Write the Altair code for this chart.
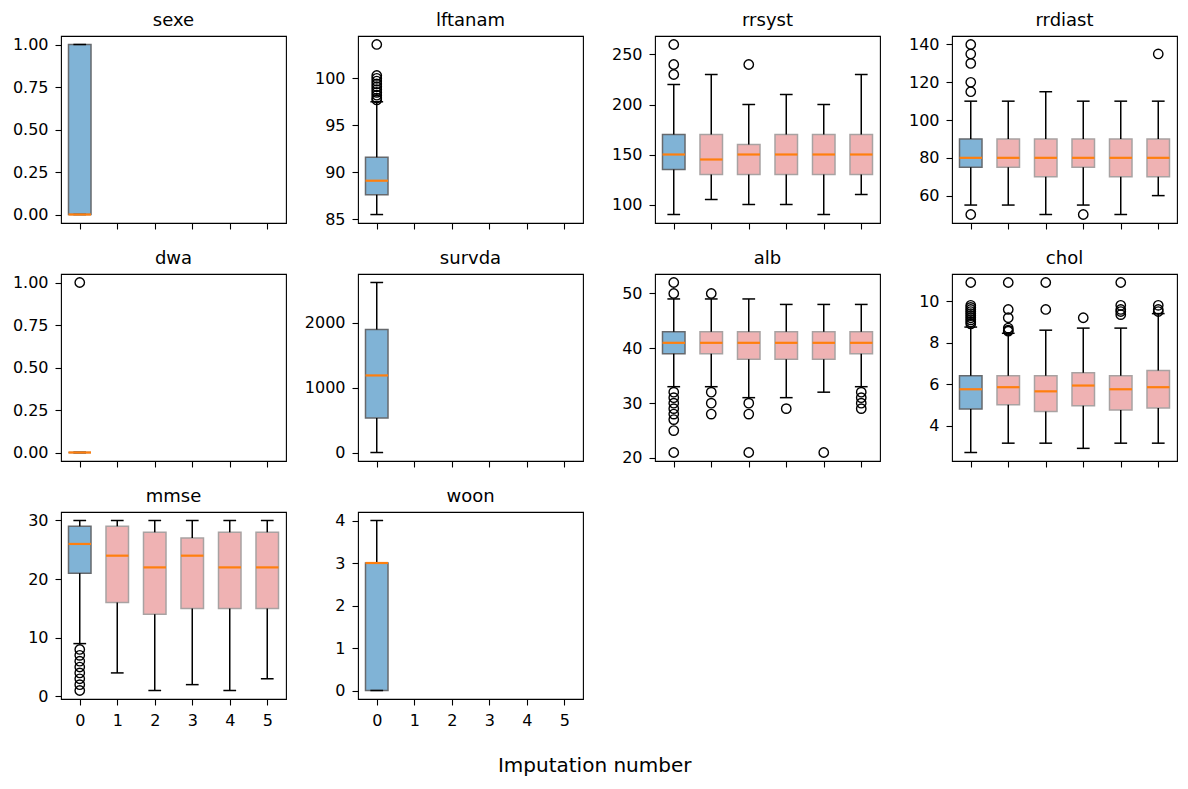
import altair as alt
import pandas as pd

variables = ["sexe", "lftanam", "rrsyst", "rrdiast", "dwa", "survda", "alb", "chol", "mmse", "woon"]
imputations = [0, 1, 2, 3, 4, 5]

q1 = {
    "sexe": [0], "lftanam": [87.6], "rrsyst": [135, 130, 130, 130, 130, 130],
    "rrdiast": [75, 75, 70, 75, 70, 70], "dwa": [0], "survda": [532],
    "alb": [39, 39, 38, 38, 38, 39], "chol": [4.8, 5.0, 4.68, 4.95, 4.75, 4.85],
    "mmse": [21, 16, 14, 15, 15, 15], "woon": [0],
}
median = {
    "sexe": [0], "lftanam": [89.1], "rrsyst": [150, 145, 150, 150, 150, 150],
    "rrdiast": [80, 80, 80, 80, 80, 80], "dwa": [0], "survda": [1190],
    "alb": [41, 41, 41, 41, 41, 41], "chol": [5.75, 5.85, 5.65, 5.93, 5.75, 5.85],
    "mmse": [26, 24, 22, 24, 22, 22], "woon": [3],
}
q3 = {
    "sexe": [1], "lftanam": [91.6], "rrsyst": [170, 170, 160, 170, 170, 170],
    "rrdiast": [90, 90, 90, 90, 90, 90], "dwa": [0], "survda": [1900],
    "alb": [43, 43, 43, 43, 43, 43], "chol": [6.4, 6.4, 6.4, 6.55, 6.4, 6.65],
    "mmse": [29, 29, 28, 27, 28, 28], "woon": [3],
}
whisker_lo = {
    "sexe": [0], "lftanam": [85.5], "rrsyst": [90, 105, 100, 100, 90, 110],
    "rrdiast": [55, 55, 50, 55, 50, 60], "dwa": [0], "survda": [0],
    "alb": [33, 33, 31, 31, 32, 33], "chol": [2.7, 3.15, 3.15, 2.9, 3.15, 3.15],
    "mmse": [9, 4, 1, 2, 1, 3], "woon": [0],
}
whisker_hi = {
    "sexe": [1], "lftanam": [97.5], "rrsyst": [220, 230, 200, 210, 200, 230],
    "rrdiast": [110, 110, 115, 110, 110, 110], "dwa": [0], "survda": [2625],
    "alb": [49, 49, 49, 48, 48, 48], "chol": [8.75, 8.45, 8.6, 8.7, 8.7, 9.4],
    "mmse": [30, 30, 30, 30, 30, 30], "woon": [4],
}
outliers = {
    "sexe": [[]],
    "lftanam": [[97.7, 97.9, 98.2, 98.5, 98.8, 99.1, 99.4, 99.7, 100.0, 100.3, 103.6]],
    "rrsyst": [[230, 240, 260], [], [240], [], [], []],
    "rrdiast": [[50, 115, 120, 130, 135, 140], [], [], [50], [], [135]],
    "dwa": [[1]],
    "survda": [[]],
    "alb": [[21, 25, 27, 28, 29, 30, 31, 32, 50, 52], [28, 30, 32, 50], [21, 28, 30], [29], [21],
            [29, 30, 31, 32]],
    "chol": [[8.9, 9.0, 9.1, 9.2, 9.3, 9.4, 9.5, 9.6, 9.7, 9.8, 10.9],
             [8.55, 8.6, 8.7, 9.2, 9.6, 10.9], [9.6, 10.9], [9.2], [9.35, 9.5, 9.6, 9.8, 10.9],
             [9.5, 9.6, 9.8]],
    "mmse": [[1, 2, 3, 4, 5, 6, 7, 8], [], [], [], [], []],
    "woon": [[]],
}
y_domain = {
    "sexe": [-0.05, 1.05], "lftanam": [84.6, 104.5], "rrsyst": [81.5, 268.5],
    "rrdiast": [45.5, 144.5], "dwa": [-0.05, 1.05], "survda": [-131, 2756],
    "alb": [19.45, 53.55], "chol": [2.29, 11.31], "mmse": [-0.45, 31.45], "woon": [-0.2, 4.2],
}
y_ticks = {
    "sexe": [0, 0.25, 0.5, 0.75, 1.0], "lftanam": [85, 90, 95, 100],
    "rrsyst": [100, 150, 200, 250], "rrdiast": [60, 80, 100, 120, 140],
    "dwa": [0, 0.25, 0.5, 0.75, 1.0], "survda": [0, 1000, 2000],
    "alb": [20, 30, 40, 50], "chol": [4, 6, 8, 10], "mmse": [0, 10, 20, 30],
    "woon": [0, 1, 2, 3, 4],
}
y_format = {"sexe": ".2f", "dwa": ".2f"}

W, H = 225, 187
BOX_HALF = 0.3
CAP_HALF = 0.15
OBS_FILL, IMP_FILL = "#80b3d6", "#efb2b3"
OBS_EDGE, IMP_EDGE = "#66696d", "#a8a2a2"
MEDIAN_COLOR = "#ff7f0e"
FONT = "DejaVu Sans"


def make_panel(k, var):
    n = len(q1[var])
    box_df = pd.DataFrame({
        "imp": imputations[:n],
        "q1": q1[var], "median": median[var], "q3": q3[var],
        "lo": whisker_lo[var], "hi": whisker_hi[var],
    })
    box_df["fill"] = [OBS_FILL if i == 0 else IMP_FILL for i in box_df["imp"]]
    box_df["edge"] = [OBS_EDGE if i == 0 else IMP_EDGE for i in box_df["imp"]]

    xs = alt.Scale(domain=[-0.5, 5.5], nice=False, zero=False)
    xa = alt.Axis(values=imputations, format="d", labels=k >= 8, title=None)
    ys = alt.Scale(domain=y_domain[var], nice=False, zero=False)
    ya = alt.Axis(values=y_ticks[var], format=y_format.get(var, "d"), title=None)

    def X(f):
        return alt.X(f"{f}:Q", scale=xs, axis=xa)

    def Y(f):
        return alt.Y(f"{f}:Q", scale=ys, axis=ya)

    base = alt.Chart(box_df).transform_calculate(
        left=f"datum.imp - {BOX_HALF}",
        right=f"datum.imp + {BOX_HALF}",
        cap_l=f"datum.imp - {CAP_HALF}",
        cap_r=f"datum.imp + {CAP_HALF}",
    )
    box = base.mark_rect(strokeWidth=1.5).encode(
        x=X("left"), x2="right:Q", y=Y("q1"), y2="q3:Q",
        fill=alt.Fill("fill:N", scale=None), stroke=alt.Stroke("edge:N", scale=None),
    )
    wlo = base.mark_rule(color="black", strokeWidth=1.5).encode(x=X("imp"), y=Y("lo"), y2="q1:Q")
    whi = base.mark_rule(color="black", strokeWidth=1.5).encode(x=X("imp"), y=Y("q3"), y2="hi:Q")
    clo = base.mark_rule(color="black", strokeWidth=1.5, strokeCap="square").encode(
        x=X("cap_l"), x2="cap_r:Q", y=Y("lo"))
    chi = base.mark_rule(color="black", strokeWidth=1.5, strokeCap="square").encode(
        x=X("cap_l"), x2="cap_r:Q", y=Y("hi"))
    med = base.mark_rule(color=MEDIAN_COLOR, strokeWidth=2.2).encode(
        x=X("left"), x2="right:Q", y=Y("median"))
    layers = [box, wlo, whi, clo, chi, med]

    fl = [{"imp": i, "value": v} for i, vals in enumerate(outliers[var]) for v in vals]
    if fl:
        pts = alt.Chart(pd.DataFrame(fl)).mark_point(
            shape="circle", filled=False, color="black", size=88, strokeWidth=1.4, opacity=1
        ).encode(x=X("imp"), y=Y("value"))
        layers.append(pts)

    title = alt.Chart(pd.DataFrame({"label": [var]})).mark_text(
        font=FONT, fontSize=18, color="black", align="center", baseline="alphabetic"
    ).encode(x=alt.value(W / 2), y=alt.value(-10.5), text="label:N")
    layers.append(title)

    return alt.layer(*layers).properties(width=W, height=H)


panels = [make_panel(k, v) for k, v in enumerate(variables)]

chart = alt.concat(
    *panels, columns=4, spacing={"row": 51, "column": 72}, bounds="flush",
    padding={"left": 11, "top": 10, "right": 8, "bottom": 10},
).properties(
    title=alt.TitleParams("Imputation number", orient="bottom", anchor="middle", frame="bounds",
                          fontSize=20, font=FONT, fontWeight="normal", color="black",
                          baseline="alphabetic", offset=43),
).configure_view(
    stroke="black", strokeWidth=1.1,
).configure_axis(
    domain=False, grid=False, tickColor="black", tickSize=6, tickWidth=1.1,
    labelFont=FONT, labelFontSize=16, labelColor="black", labelPadding=7,
)

chart.save("out.html", embed_options={"renderer": "svg", "actions": False})
